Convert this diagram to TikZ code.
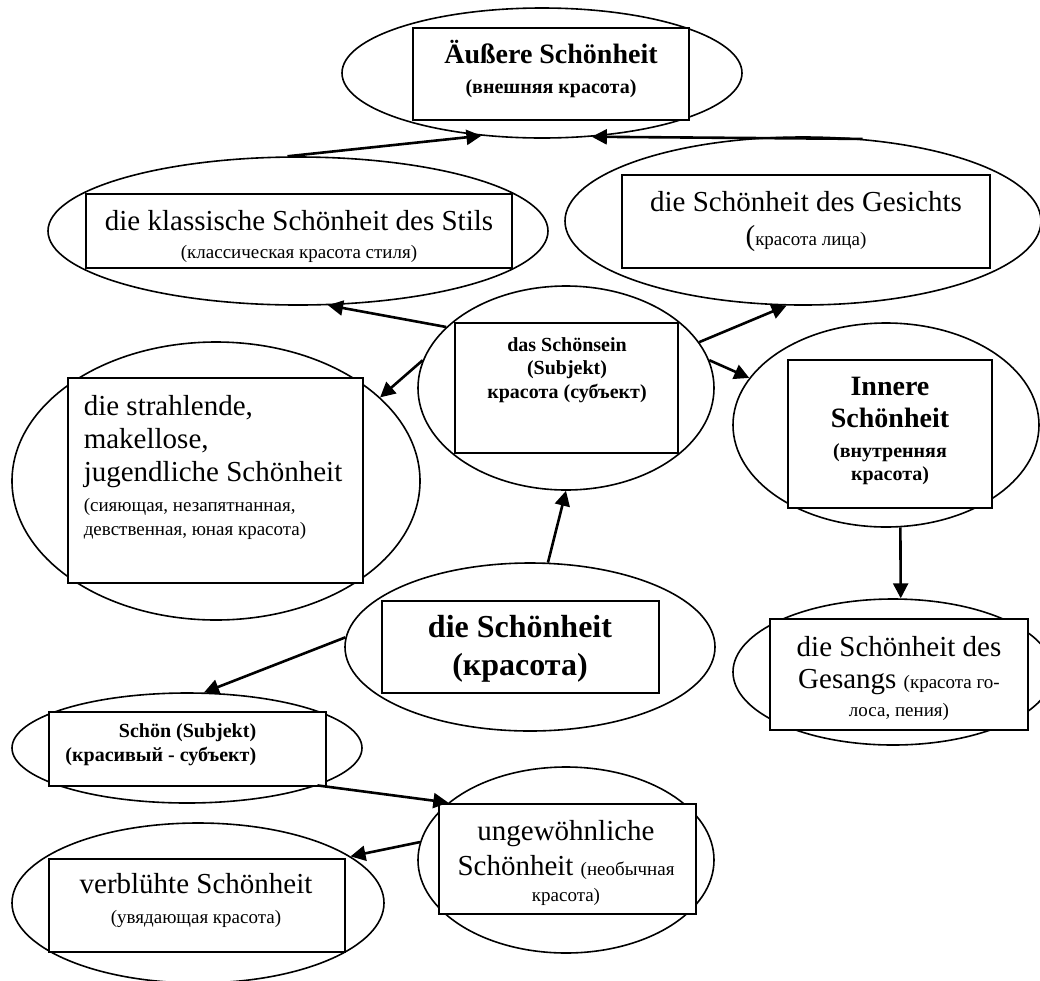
\documentclass[tikz,border=0pt]{standalone}
\usepackage{fontspec}
\setmainfont{Liberation Serif}
\usetikzlibrary{shapes.geometric,arrows.meta}
\newcommand{\smalltxt}{\fontsize{9.5}{12}\selectfont}
\newcommand{\smallbf}{\bfseries\fontsize{10}{12}\selectfont}
\tikzset{every picture/.style={line width=0.8pt},
  oval/.style={draw, ellipse, inner sep=0pt},
  card/.style={draw, fill=white, rectangle, inner sep=0pt, line width=1.2pt},
  words/.style={inner sep=0pt, align=center, font=\fontsize{14.5}{16.5}\selectfont},
  pointer/.style={line width=1.3pt, -{Triangle[length=7.5pt,width=7.5pt]}}}

\begin{document}
\begin{tikzpicture}[x=0.5pt,y=0.5pt,yscale=-1,xscale=1]
\useasboundingbox (0,0) rectangle (1040,981);

%Shape: Ellipses
\node[oval, minimum width=200pt, minimum height=65pt] (outerE) at (542,73) {};
\node[oval, minimum width=250pt, minimum height=74pt] (stilE) at (298,231) {};
\node[oval, minimum width=238pt, minimum height=84pt] (faceE) at (803,221) {};
\node[oval, minimum width=148pt, minimum height=102pt] (beingE) at (566,388) {};
\node[oval, minimum width=204pt, minimum height=139pt] (radE) at (216,481) {};
\node[oval, minimum width=153pt, minimum height=102pt] (innerE) at (886,425) {};
\node[oval, minimum width=160pt, minimum height=73pt] (songE) at (893,672) {};
\node[oval, minimum width=185pt, minimum height=84pt] (mainE) at (530,647) {};
\node[oval, minimum width=175pt, minimum height=55pt] (beautE) at (187,748) {};
\node[oval, minimum width=148pt, minimum height=93pt] (rareE) at (566,860) {};
\node[oval, minimum width=186pt, minimum height=80pt] (fadedE) at (198,903) {};

%Shape: Rectangles
\node[card, minimum width=138pt, minimum height=46pt] (outerB) at (551,74) {};
\node[card, minimum width=213pt, minimum height=37pt] (stilB) at (299,231) {};
\node[card, minimum width=184pt, minimum height=46.5pt] (faceB) at (806,221.5) {};
\node[card, minimum width=111.5pt, minimum height=65pt] (beingB) at (566.5,388) {};
\node[card, minimum width=147.5pt, minimum height=102.5pt] (radB) at (215.5,480.5) {};
\node[card, minimum width=102pt, minimum height=74pt] (innerB) at (890,434) {};
\node[card, minimum width=129pt, minimum height=55.5pt] (songB) at (899,674.5) {};
\node[card, minimum width=138.5pt, minimum height=46pt] (mainB) at (520.5,647) {};
\node[card, minimum width=138.5pt, minimum height=37pt] (beautB) at (187.5,749) {};
\node[card, minimum width=128.5pt, minimum height=55pt] (rareB) at (567.5,859) {};
\node[card, minimum width=148pt, minimum height=46.5pt] (fadedB) at (197,905.5) {};

% Text Node
\node[words, font=\bfseries\fontsize{14}{15}\selectfont] (outerT) at (551,69) {Äußere Schönheit\\{\smallbf (внешняя красота)}};
% Text Node
\node[words, font=\fontsize{14.5}{14}\selectfont] (stilT) at (299,236) {die klassische Schönheit des Stils\\{\smalltxt (классическая красота стиля)}};
% Text Node
\node[words, font=\fontsize{14.5}{17}\selectfont] (faceT) at (806,221.5) {die Schönheit des Gesichts\\({\smalltxt красота лица)}};
% Text Node
\node[words, font=\bfseries\fontsize{10}{11.75}\selectfont] (beingT) at (567,370) {das Schönsein\\(Subjekt)\\красота (субъект)};
% Text Node
\node[words, align=left, anchor=west] (radT) at (83,467) {die strahlende,\\makellose,\\jugendliche Schönheit\\[-1.5pt]{\smalltxt (сияющая, незапятнанная,}\\[-4.5pt]{\smalltxt девственная, юная красота)}};
% Text Node
\node[words, font=\bfseries\fontsize{14}{16}\selectfont] (innerT) at (890,430.5) {Innere\\Schönheit\\[-1pt]{\smallbf (внутренняя}\\[-4.5pt]{\smallbf красота)}};
% Text Node
\node[words, font=\fontsize{14.5}{16}\selectfont] (songT) at (899,678) {die Schönheit des\\Gesangs {\smalltxt (красота го-}\\[-2pt]{\smalltxt лоса, пения)}};
% Text Node
\node[words, font=\bfseries\fontsize{16}{19}\selectfont] (mainT) at (520,649) {die Schönheit\\(красота)};
% Text Node
\node[words, align=right, anchor=east, font=\smallbf] (beautT) at (257,745) {Schön (Subjekt)\\(красивый - субъект)};
% Text Node
\node[words, font=\fontsize{14.5}{17.5}\selectfont] (rareT) at (566,862.5) {ungewöhnliche\\Schönheit {\smalltxt (необычная}\\[-4.5pt]{\smalltxt красота)}};
% Text Node
\node[words, font=\fontsize{14.5}{15}\selectfont] (fadedT) at (196,900) {verblühte Schönheit\\{\smalltxt (увядающая красота)}};

%Straight Lines
\draw[pointer] (stilE.98) -- (outerE.226);
\draw[pointer] (faceE.54) -- (outerE.308);
\draw[pointer] (beingE.153) -- (stilE.292);
\draw[pointer] (beingE.19) -- (faceE.259);
\draw[pointer] (beingE.169) -- (radE.27);
\draw[pointer] (beingE.11) -- (innerE.161);
\draw[pointer] (innerE.278) -- (songE.84);
\draw[pointer] (mainE.78) -- (beingE.270);
\draw[pointer] (mainE.177) -- (beautE.73);
\draw[pointer] (beautE.344) -- (rareE.154);
\draw[pointer] (rareE.173) -- (fadedE.17);

\end{tikzpicture}
\end{document}
